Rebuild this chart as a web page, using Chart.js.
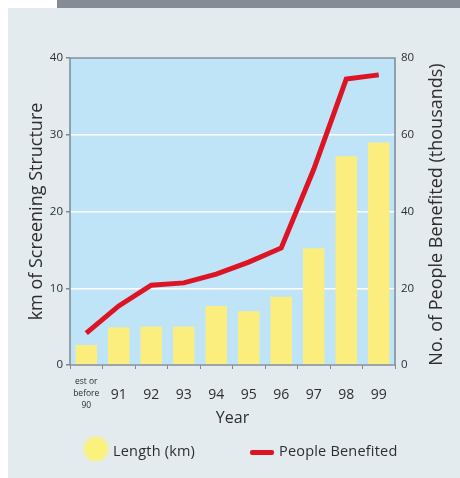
<!DOCTYPE html>
<html>
<head>
<meta charset="utf-8">
<script src="https://cdn.jsdelivr.net/npm/chart.js@4.4.1/dist/chart.umd.min.js"></script>
<style>
  html, body { margin: 0; padding: 0; background: #ffffff; }
  #wrap { position: relative; width: 460px; height: 478px; overflow: hidden; font-family: "Open Sans", "Noto Sans", sans-serif; }
  #topbar { position: absolute; left: 57px; top: 0; width: 403px; height: 8px; background: #868b96; }
  #panel { position: absolute; left: 8px; top: 8px; width: 452px; height: 470px; background: #e4ebee; }
  #chart { position: absolute; left: 0; top: 0; }
  .lg { position: absolute; color: #2e2e2e; font-size: 14.5px; line-height: 18px; white-space: nowrap; letter-spacing: 0.2px; }
  #dotLen { position: absolute; left: 85px; top: 438px; width: 22px; height: 22px; border-radius: 50%; background: #fbf27c; box-shadow: 0 0 3px 1px #fbf27c; }
  #lineBen { position: absolute; left: 250px; top: 450px; width: 24px; height: 5px; border-radius: 2px; background: #dd1424; }
</style>
</head>
<body>
<div id="wrap">
  <div id="topbar"></div>
  <div id="panel"></div>
  <canvas id="chart" width="460" height="478"></canvas>
  <div id="dotLen"></div>
  <div class="lg" style="left:113px; top:442px;">Length (km)</div>
  <div id="lineBen"></div>
  <div class="lg" style="left:279px; top:442px;">People Benefited</div>
</div>
<script>
// Years shown along the bottom axis (first entry covers everything up to 1990)
const years = [["est or", "before", "90"], "91", "92", "93", "94", "95", "96", "97", "98", "99"];
// Cumulative length of screening structure, km
const lengthKm = [2.6, 4.9, 5.0, 5.0, 7.7, 7.0, 8.9, 15.2, 27.2, 29.0];
// People benefited, thousands
const peopleThousands = [8.3, 15.4, 20.8, 21.4, 23.7, 26.8, 30.5, 51.0, 74.5, 75.6];
// Axis tick values
const kmTicks = [0, 10, 20, 30, 40];
const peopleTicks = [0, 20, 40, 60, 80];

const FONT = '"Open Sans", "Noto Sans", sans-serif';
const TEXT = '#2e2e2e';
const EDGE = '#7b8a97';

// Light-blue plot background and the frame around it
const plotFrame = {
  id: 'plotFrame',
  beforeDraw(chart) {
    const { ctx, chartArea: a } = chart;
    ctx.save();
    ctx.fillStyle = '#bfe4f8';
    ctx.fillRect(a.left, a.top, a.right - a.left, a.bottom - a.top);
    ctx.restore();
  },
  afterDatasetsDraw(chart) {
    const { ctx, chartArea: a } = chart;
    ctx.save();
    ctx.strokeStyle = EDGE;
    ctx.lineWidth = 1.5;
    ctx.strokeRect(a.left, a.top, a.right - a.left, a.bottom - a.top);
    ctx.restore();
  }
};

// Axis titles: both vertical titles read bottom-to-top
const axisTitles = {
  id: 'axisTitles',
  afterDraw(chart) {
    const { ctx, chartArea: a } = chart;
    const midY = (a.top + a.bottom) / 2;
    ctx.save();
    ctx.fillStyle = TEXT;
    ctx.textAlign = 'center';
    ctx.textBaseline = 'middle';
    ctx.font = '16px ' + FONT;
    ctx.fillText('Year', (a.left + a.right) / 2, 418);

    ctx.font = '18px ' + FONT;
    ctx.save();
    ctx.translate(37, midY);
    ctx.rotate(-Math.PI / 2);
    ctx.fillText('km of Screening Structure', 0, 0);
    ctx.restore();

    ctx.save();
    ctx.translate(437, midY + 3);
    ctx.rotate(-Math.PI / 2);
    ctx.fillText('No. of People Benefited (thousands)', 0, 0);
    ctx.restore();
    ctx.restore();
  }
};

new Chart(document.getElementById('chart'), {
  type: 'bar',
  data: {
    labels: years,
    datasets: [
      {
        type: 'line',
        label: 'People Benefited',
        data: peopleThousands,
        yAxisID: 'y1',
        borderColor: '#dd1424',
        borderWidth: 5,
        pointRadius: 0,
        tension: 0,
        fill: false,
        borderJoinStyle: 'miter',
        order: 0
      },
      {
        type: 'bar',
        label: 'Length (km)',
        data: lengthKm,
        yAxisID: 'y',
        backgroundColor: '#fbee7e',
        borderWidth: 0,
        barPercentage: 0.66,
        categoryPercentage: 1.0,
        order: 1
      }
    ]
  },
  options: {
    responsive: false,
    animation: false,
    devicePixelRatio: 1,
    layout: { padding: { left: 0, right: 0, top: 58, bottom: 63 } },
    plugins: { legend: { display: false }, tooltip: { enabled: false } },
    scales: {
      x: {
        offset: true,
        border: { display: false },
        grid: { display: true, drawOnChartArea: false, drawTicks: true, tickLength: 4, tickColor: EDGE, offset: true },
        ticks: {
          autoSkip: false,
          maxRotation: 0,
          minRotation: 0,
          padding: 13,
          color: TEXT,
          crossAlign: 'center',
          font: (c) => c.index === 0
            ? { family: FONT, size: 8.5, lineHeight: '12px' }
            : { family: FONT, size: 14, lineHeight: '10px' }
        },
        afterFit(scale) { scale.height = 50; }
      },
      y: {
        position: 'left',
        min: 0,
        max: 40,
        border: { display: false },
        grid: { color: '#ffffff', lineWidth: 1.5, drawTicks: true, tickLength: 4, tickColor: EDGE },
        ticks: {
          stepSize: 10,
          padding: 3,
          color: TEXT,
          font: { family: FONT, size: 11.5 }
        },
        afterBuildTicks(scale) { scale.ticks = kmTicks.map(v => ({ value: v })); },
        afterFit(scale) { scale.width = 70; }
      },
      y1: {
        position: 'right',
        min: 0,
        max: 80,
        border: { display: false },
        grid: { drawOnChartArea: false, drawTicks: false },
        ticks: {
          stepSize: 20,
          padding: 6,
          color: TEXT,
          font: { family: FONT, size: 11.5 }
        },
        afterBuildTicks(scale) { scale.ticks = peopleTicks.map(v => ({ value: v })); },
        afterFit(scale) { scale.width = 65; }
      }
    }
  },
  plugins: [plotFrame, axisTitles]
});
</script>
</body>
</html>
